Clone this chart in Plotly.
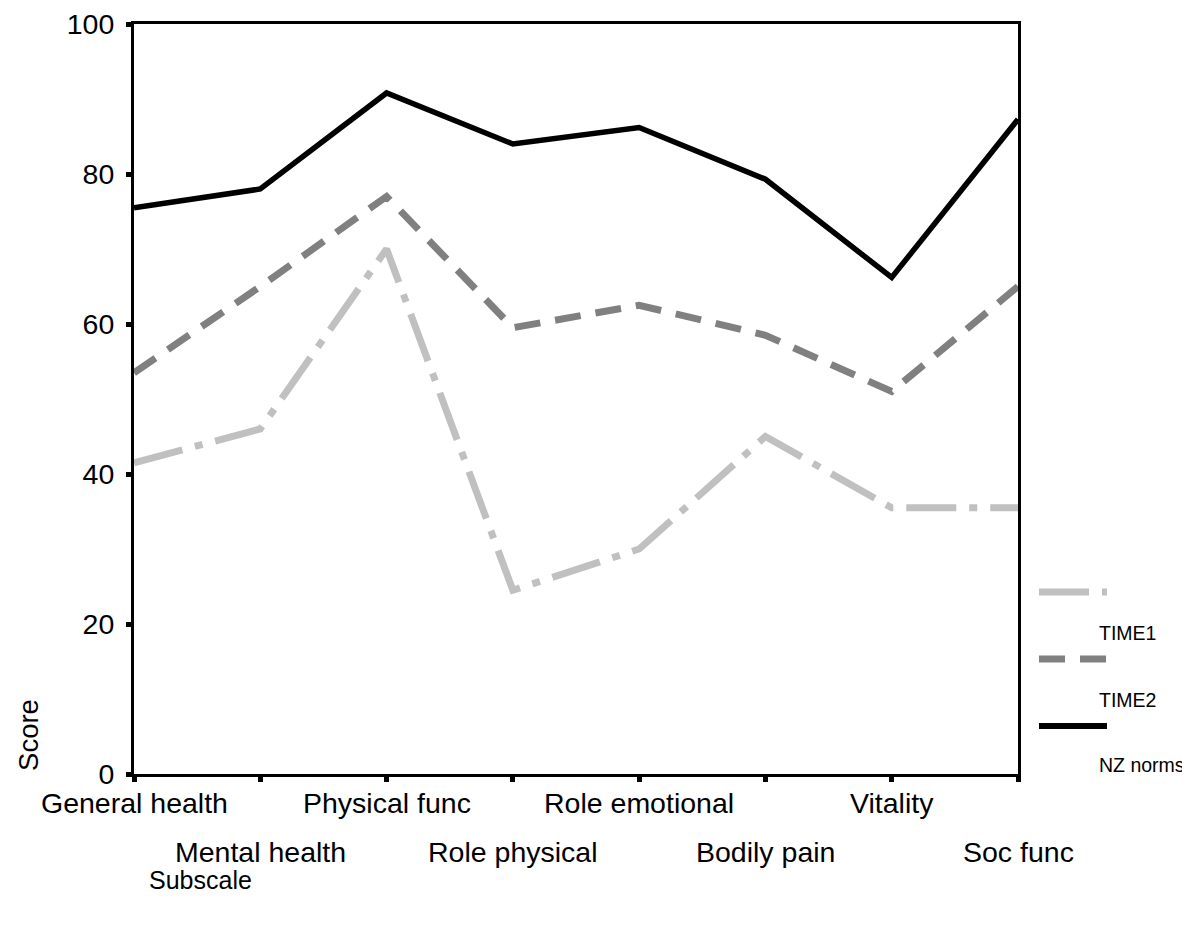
import plotly.graph_objects as go

categories = ["General health", "Mental health", "Physical func", "Role physical",
              "Role emotional", "Bodily pain", "Vitality", "Soc func"]
time1 = [41.5, 46.0, 70.0, 24.5, 30.0, 45.0, 35.5, 35.5]
time2 = [53.5, 65.0, 77.0, 59.5, 62.5, 58.5, 51.0, 65.0]
nz_norms = [75.5, 78.0, 90.8, 84.0, 86.2, 79.3, 66.2, 87.3]
y_ticks = [0, 20, 40, 60, 80, 100]
series_names = ["TIME1", "TIME2", "NZ norms"]

FONT = "Liberation Sans, Arial, sans-serif"
x_idx = list(range(len(categories)))

# plot-area geometry (pixels inside the figure)
L, T, PW, PH = 126, 16, 884, 750
W, H = 1180, 937

fig = go.Figure()
fig.add_trace(go.Scatter(x=x_idx, y=time1, mode="lines", name=series_names[0],
                         line=dict(color="#c0c0c0", width=7, dash="50px,13px,8px,13px")))
fig.add_trace(go.Scatter(x=x_idx, y=time2, mode="lines", name=series_names[1],
                         line=dict(color="#808080", width=7, dash="26px,15px")))
fig.add_trace(go.Scatter(x=x_idx, y=nz_norms, mode="lines", name=series_names[2],
                         line=dict(color="#000000", width=5.5)))

# X tick labels in two staggered rows
for i, cat in enumerate(categories):
    fig.add_annotation(x=i, xref="x", y=-0.0387 if i % 2 == 0 else -0.104, yref="paper",
                       text=cat, showarrow=False, xanchor="center", yanchor="middle",
                       font=dict(family=FONT, size=28.5, color="black"))

# axis titles
fig.add_annotation(x=-0.12, xref="paper", y=0.052, yref="paper", text="Score",
                   textangle=-90, showarrow=False, xanchor="center", yanchor="middle",
                   font=dict(family=FONT, size=27.5, color="black"))
fig.add_annotation(x=0.0747, xref="paper", y=-0.141, yref="paper", text="Subscale",
                   showarrow=False, xanchor="center", yanchor="middle",
                   font=dict(family=FONT, size=25, color="black"))

# custom legend (positions given in reference pixels, plot area 133..1017 x 24..774)
def px_x(px):
    return (px - 133) / 884

def px_y(py):
    return (774 - py) / 750

legend_items = [
    (592, 633, "#c0c0c0", "50px,13px,8px,13px", 7),
    (659, 700, "#808080", "26px,15px", 7),
    (726, 765, "#000000", "solid", 6),
]
for (sy, ty, col, dash, w), name in zip(legend_items, series_names):
    fig.add_shape(type="line", xref="paper", yref="paper",
                  x0=px_x(1038), x1=px_x(1106), y0=px_y(sy), y1=px_y(sy),
                  line=dict(color=col, width=w, dash=dash))
    fig.add_annotation(x=px_x(1096), xref="paper", y=px_y(ty), yref="paper", text=name,
                       showarrow=False, xanchor="left", yanchor="middle",
                       font=dict(family=FONT, size=19.5, color="black"))

fig.update_layout(
    width=W, height=H,
    margin=dict(l=L, r=W - L - PW, t=T, b=H - T - PH, pad=0),
    paper_bgcolor="white", plot_bgcolor="white",
    showlegend=False,
    font=dict(family=FONT, color="black"),
)
fig.update_xaxes(range=[0, 7], tickvals=x_idx, ticktext=[""] * len(categories),
                 showgrid=False, zeroline=False, showline=True, linecolor="black",
                 linewidth=3, mirror=True, ticks="outside", ticklen=5, tickwidth=5,
                 tickcolor="black", automargin=False)
fig.update_yaxes(range=[0, 100], tickvals=y_ticks, showgrid=False, zeroline=False,
                 showline=True, linecolor="black", linewidth=3, mirror=True,
                 ticks="outside", ticklen=5, tickwidth=5, tickcolor="black",
                 tickfont=dict(family=FONT, size=28.5, color="black"),
                 ticklabelstandoff=6,
                 automargin=False, ticklabeloverflow="allow")

fig.write_html("out.html")
